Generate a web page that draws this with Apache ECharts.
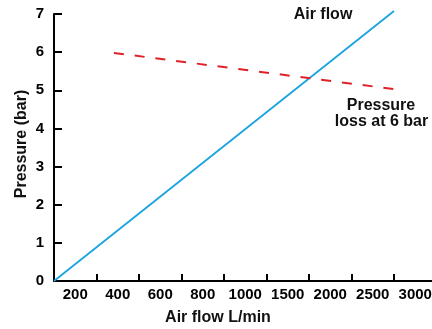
<!DOCTYPE html>
<html>
<head>
<meta charset="utf-8">
<script src="https://cdn.jsdelivr.net/npm/echarts@6/dist/echarts.min.js"></script>
<style>
  html, body { margin: 0; padding: 0; background: #fff; }
  #chart { width: 432px; height: 329px; }
</style>
</head>
<body>
<div id="chart"></div>
<script>
// x axis categories (evenly spaced, not to scale)
const flowLabels = ['200', '400', '600', '800', '1000', '1500', '2000', '2500', '3000']
const pressureTicks = [0, 1, 2, 3, 4, 5, 6, 7]

// positions along the x axis are in category-slot units (0 = axis origin)
const airFlowX = [0, 8]
const airFlowY = [0, 7.08]
const lossX = [1.41, 8]
const lossY = [5.98, 5.03]

const font = 'Liberation Sans'

let chartDom = document.getElementById('chart')
let myChart = echarts.init(chartDom, null, {renderer: 'canvas'})

function pairs(xs, ys) {
    return xs.map((x, i) => [x, ys[i]])
}

let labelStyle = {color: '#000', fontWeight: 'bold', fontSize: 15, fontFamily: font}

let option = {
    animation: false,
    textStyle: {fontFamily: font, fontWeight: 'bold'},
    grid: {left: 54, top: 14, bottom: 48, width: 382.5, containLabel: false, outerBoundsMode: 'none'},
    xAxis: [
        {
            type: 'category',
            data: flowLabels,
            boundaryGap: true,
            axisLine: {show: true, lineStyle: {color: '#000', width: 2}},
            axisTick: {show: true, inside: true, length: 7, interval: 0, lineStyle: {color: '#000', width: 2}},
            axisLabel: Object.assign({margin: 6, interval: 0, hideOverlap: false}, labelStyle),
            splitLine: {show: false}
        },
        {
            type: 'value',
            min: 0,
            max: flowLabels.length,
            show: false
        }
    ],
    yAxis: {
        type: 'value',
        min: pressureTicks[0],
        max: pressureTicks[pressureTicks.length - 1],
        interval: 1,
        axisLine: {show: true, lineStyle: {color: '#000', width: 2}},
        axisTick: {show: true, inside: true, length: 8, lineStyle: {color: '#000', width: 2}},
        axisLabel: Object.assign({margin: 10}, labelStyle),
        splitLine: {show: false}
    },
    series: [
        {
            name: 'Air flow',
            type: 'line',
            xAxisIndex: 1,
            clip: false,
            data: pairs(airFlowX, airFlowY),
            symbol: 'none',
            lineStyle: {color: '#1aa3e0', width: 1.8}
        },
        {
            name: 'Pressure loss at 6 bar',
            type: 'line',
            xAxisIndex: 1,
            clip: false,
            data: pairs(lossX, lossY),
            symbol: 'none',
            lineStyle: {color: '#e0202a', width: 2, type: [10, 10.9]}
        }
    ],
    graphic: [
        {
            type: 'text', x: 218, y: 318,
            style: {text: 'Air flow L/min', font: 'bold 16px ' + font, fill: '#111', textAlign: 'center', textVerticalAlign: 'middle'}
        },
        {
            type: 'text', x: 22, y: 144, rotation: Math.PI / 2,
            style: {text: 'Pressure (bar)', font: 'bold 16px ' + font, fill: '#111', textAlign: 'center', textVerticalAlign: 'middle'}
        },
        {
            type: 'text', x: 323, y: 15,
            style: {text: 'Air flow', font: 'bold 16px ' + font, fill: '#111', textAlign: 'center', textVerticalAlign: 'middle'}
        },
        {
            type: 'text', x: 381, y: 106,
            style: {text: 'Pressure', font: 'bold 16px ' + font, fill: '#111', textAlign: 'center', textVerticalAlign: 'middle'}
        },
        {
            type: 'text', x: 381.5, y: 122,
            style: {text: 'loss at 6 bar', font: 'bold 16px ' + font, fill: '#111', textAlign: 'center', textVerticalAlign: 'middle'}
        }
    ]
}

myChart.setOption(option)

window.addEventListener('resize', () => {
    myChart.resize()
})
</script>
</body>
</html>
